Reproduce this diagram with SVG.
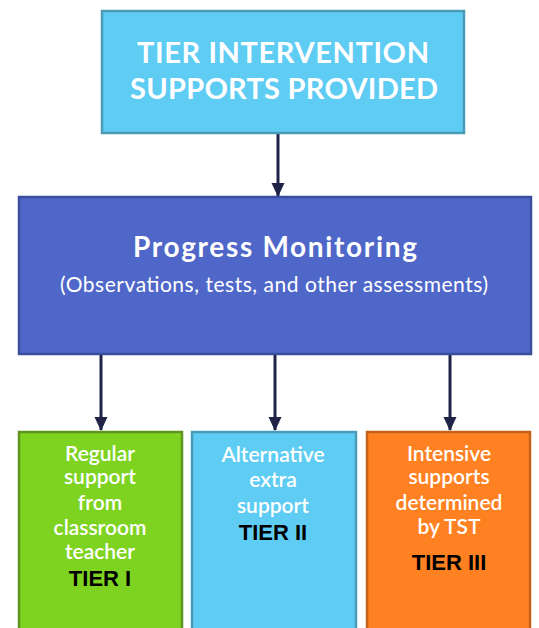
<svg xmlns="http://www.w3.org/2000/svg" width="539" height="628" viewBox="0 0 539 628">
<defs>
<marker id="ah" markerWidth="14" markerHeight="14" refX="13" refY="7" orient="auto" markerUnits="userSpaceOnUse">
<path d="M0,0.5 L14,7 L0,13.5 Z" fill="#1F2348"/>
</marker>
<style>
.w{fill:#fff;font-family:Lato,"Liberation Sans",sans-serif;text-anchor:middle}
.tier{fill:#000;font-family:"Liberation Sans",Arial,sans-serif;font-weight:bold;font-size:22px;text-anchor:middle}
.conn{stroke:#1F2348;stroke-width:3;fill:none;marker-end:url(#ah)}
.sm{font-size:21px;font-weight:600}
</style>
</defs>
<rect width="539" height="628" fill="#fff"/>
<g id="connectors">
<line class="conn" x1="278" y1="134" x2="278" y2="196"/>
<line class="conn" x1="101" y1="355" x2="101" y2="430"/>
<line class="conn" x1="275" y1="355" x2="275" y2="430"/>
<line class="conn" x1="450" y1="355" x2="450" y2="430"/>
</g>
<g id="top">
<rect x="102" y="11" width="362" height="122" fill="#5ECCF3" stroke="#4A9BB8" stroke-width="2.5"/>
<text class="w" x="283" y="63" font-size="29" font-weight="bold" textLength="292">TIER INTERVENTION</text>
<text class="w" x="284" y="99" font-size="29" font-weight="bold" textLength="308">SUPPORTS PROVIDED</text>
</g>
<g id="monitor">
<rect x="19" y="197" width="512" height="157" fill="#4F67C8" stroke="#394E9C" stroke-width="2.5"/>
<text class="w" x="275" y="257" font-size="28" font-weight="bold" textLength="284">Progress Monitoring</text>
<text class="w" x="274" y="292" font-size="21" textLength="428">(Observations, tests, and other assessments)</text>
</g>
<g id="tier1">
<rect x="19" y="432" width="163" height="210" fill="#7ED321" stroke="#5E9620" stroke-width="2.5"/>
<text class="w sm" x="100" y="461">Regular</text>
<text class="w sm" x="100" y="484">support</text>
<text class="w sm" x="100" y="510">from</text>
<text class="w sm" x="100" y="535">classroom</text>
<text class="w sm" x="100" y="559">teacher</text>
<text class="tier" x="100" y="586">TIER I</text>
</g>
<g id="tier2">
<rect x="192" y="432" width="164" height="210" fill="#5ECCF3" stroke="#4A9BB8" stroke-width="2.5"/>
<text class="w sm" x="273" y="462">Alternative</text>
<text class="w sm" x="273" y="487">extra</text>
<text class="w sm" x="273" y="513">support</text>
<text class="tier" x="273" y="540">TIER II</text>
</g>
<g id="tier3">
<rect x="367" y="432" width="163" height="210" fill="#FF8121" stroke="#C4621C" stroke-width="2.5"/>
<text class="w sm" x="449" y="461">Intensive</text>
<text class="w sm" x="449" y="484">supports</text>
<text class="w sm" x="449" y="510">determined</text>
<text class="w sm" x="449" y="534">by TST</text>
<text class="tier" x="449" y="570">TIER III</text>
</g>
</svg>
